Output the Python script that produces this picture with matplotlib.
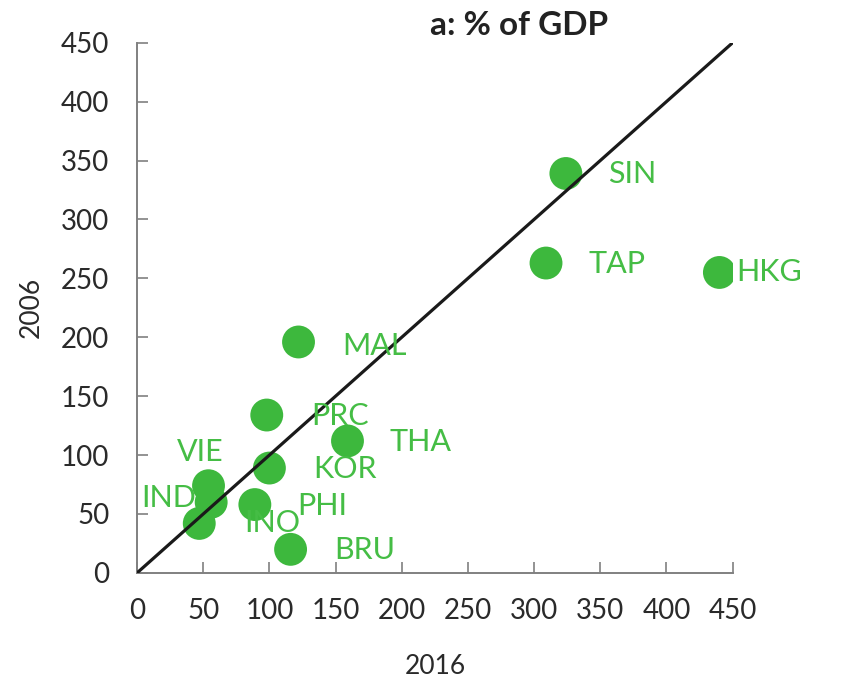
import matplotlib
matplotlib.use("Agg")
import matplotlib.pyplot as plt

codes = ['SIN', 'TAP', 'HKG', 'MAL', 'PRC', 'THA', 'KOR', 'VIE', 'IND', 'PHI', 'INO', 'BRU']
val_2016 = [324, 309, 440, 122, 98, 159, 100, 54, 56, 89, 47, 116]
val_2006 = [339, 263, 255, 196, 134, 112, 89, 74, 60, 58, 42, 20]
ticks = [0, 50, 100, 150, 200, 250, 300, 350, 400, 450]

# label offsets in pixels (dx to text left, dy to text centre)
label_offsets = {
    'SIN': (42, -1), 'TAP': (42, -1), 'HKG': (17, 0), 'MAL': (44, -4),
    'PRC': (44, -1), 'THA': (42, -1), 'KOR': (44, -1), 'VIE': (-32, 34),
    'IND': (-70, 4), 'PHI': (42, -1), 'INO': (45, 0), 'BRU': (44, -1),
}

plt.rcParams['font.family'] = ['Lato', 'DejaVu Sans']

fig = plt.figure(figsize=(8.46, 6.78), dpi=100)
ax = fig.add_axes([0.162, 0.155, 0.704, 0.782])

GREEN = '#3db83d'
TXT_GREEN = '#45bd45'

ax.scatter(val_2016, val_2006, s=560, color=GREEN, edgecolors='none', zorder=2)
ax.plot([0, 450], [0, 450], color='#1a1a1a', lw=2.3, zorder=3, solid_capstyle='butt')

for c, x, y in zip(codes, val_2016, val_2006):
    dx, dy = label_offsets[c]
    ax.annotate(c, (x, y), xytext=(dx, dy), textcoords='offset pixels',
                ha='left', va='center', fontsize=22, color=TXT_GREEN, zorder=4)

ax.set_xlim(0, 450)
ax.set_ylim(0, 450)
ax.set_xticks(ticks)
ax.set_yticks(ticks)
ax.set_xticklabels([str(t) for t in ticks])
ax.set_yticklabels([str(t) for t in ticks])
for s in ['top', 'right']:
    ax.spines[s].set_visible(False)
for s in ['left', 'bottom']:
    ax.spines[s].set_color('#808080')
    ax.spines[s].set_linewidth(1.4)
ax.tick_params(axis='both', direction='in', length=8, width=1.2, color='#808080',
               labelsize=20, labelcolor='#2a2a2a')
ax.tick_params(axis='x', pad=18)
ax.tick_params(axis='y', pad=20)

ax.set_xlabel('2016', fontsize=19, color='#2a2a2a', labelpad=22)
ax.set_ylabel('2006', fontsize=19, color='#2a2a2a', labelpad=12)

fig.text(0.613, 0.962, 'a: % of GDP', ha='center', va='center', fontsize=24,
         fontweight='bold', color='#222222')

fig.savefig('out.png', dpi=100)
